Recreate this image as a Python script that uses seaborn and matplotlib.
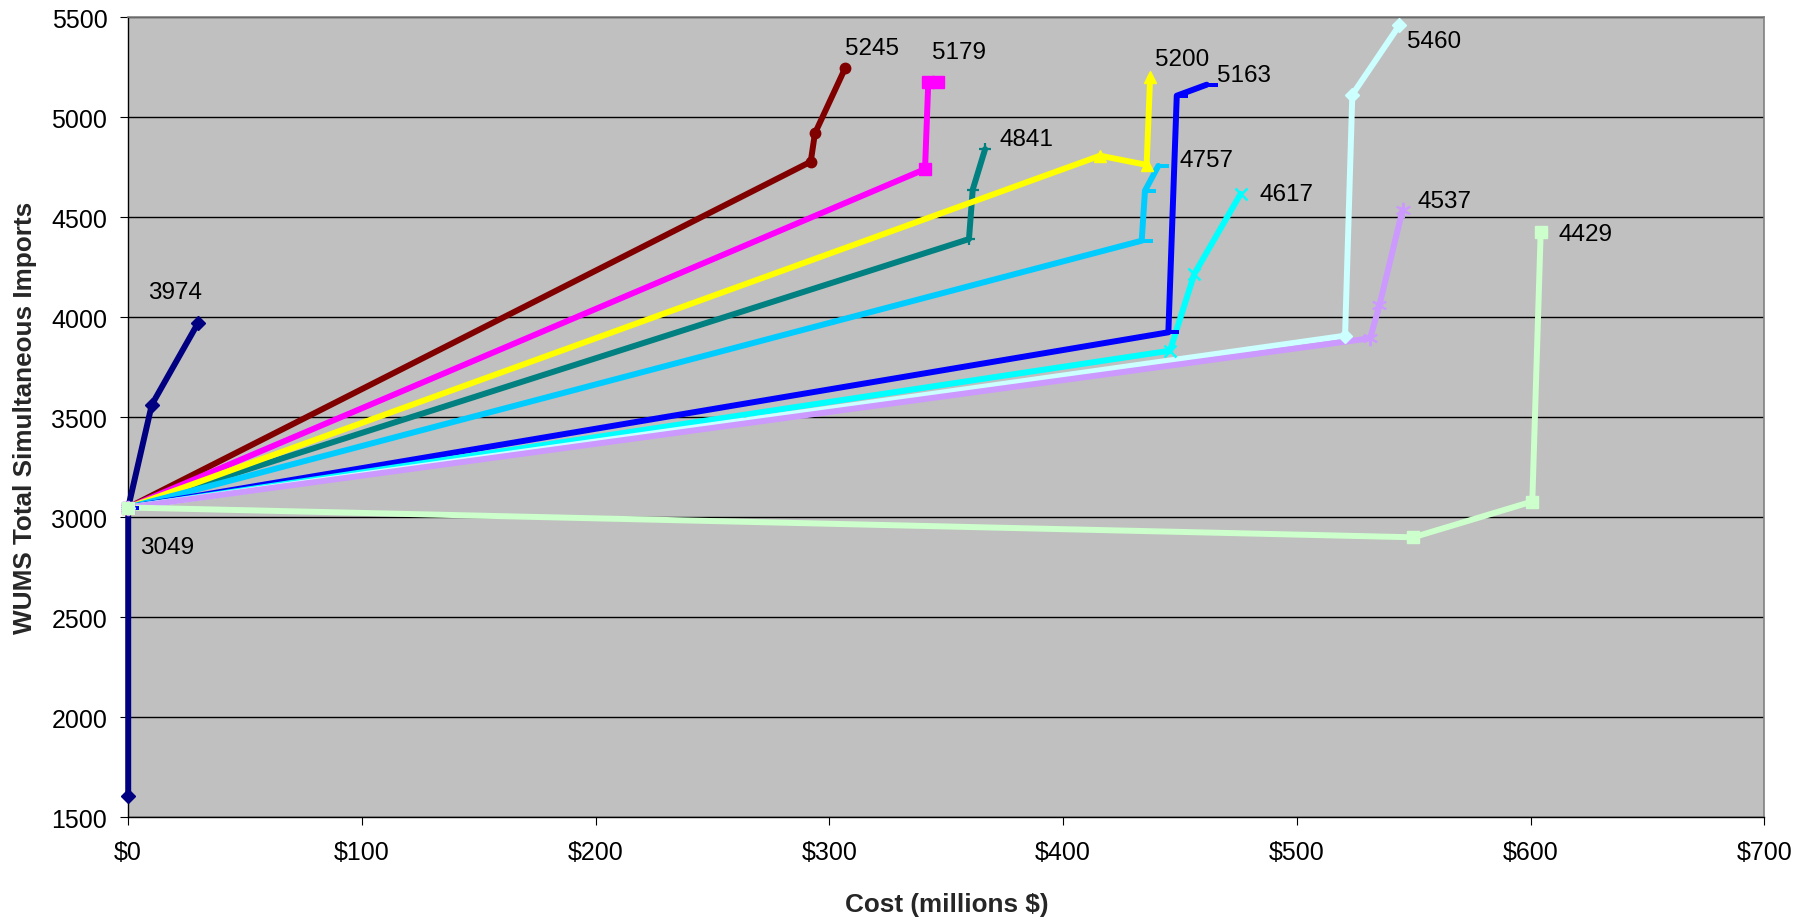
import matplotlib
matplotlib.use("Agg")
import matplotlib.pyplot as plt
import seaborn as sns
from matplotlib.path import Path

# ---------------- data (cost in millions $, WUMS total simultaneous imports) -------------
navy_cost = [0, 0, 10.1, 30]
navy_imp = [1605, 3049, 3563, 3974]

maroon_cost = [0, 292.0, 293.8, 306.7]
maroon_imp = [3049, 4778, 4920, 5245]

magenta_cost = [0, 340.9, 342.3, 346.6]
magenta_imp = [3049, 4741, 5179, 5179]

teal_cost = [0, 359.7, 361.3, 366.6]
teal_imp = [3049, 4391, 4638, 4841]

yellow_cost = [0, 415.8, 435.7, 437.2]
yellow_imp = [3049, 4808, 4762, 5200]

skyblue_cost = [0, 433.6, 435.0, 440.7]
skyblue_imp = [3049, 4383, 4633, 4757]

blue_cost = [0, 445.0, 448.6, 461.4]
blue_imp = [3049, 3925, 5108, 5163]

cyan_cost = [0, 445.7, 456.1, 475.9]
cyan_imp = [3049, 3833, 4217, 4617]

paleturq_cost = [0, 520.6, 523.7, 543.8]
paleturq_imp = [3049, 3908, 5113, 5460]

lavender_cost = [0, 531.3, 535.3, 545.2]
lavender_imp = [3049, 3895, 4060, 4537]

palegreen_cost = [0, 549.8, 600.7, 604.3]
palegreen_imp = [3049, 2900, 3079, 4429]

x_ticks = [0, 100, 200, 300, 400, 500, 600, 700]
x_tick_labels = ["$0", "$100", "$200", "$300", "$400", "$500", "$600", "$700"]
y_ticks = [1500, 2000, 2500, 3000, 3500, 4000, 4500, 5000, 5500]

x_label = "Cost (millions $)"
y_label = "WUMS Total Simultaneous Imports"

# ---------------- styles ----------------
dash = Path([(-0.2, -0.18), (1, -0.18), (1, 0.18), (-0.2, 0.18), (-0.2, -0.18)],
            [Path.MOVETO, Path.LINETO, Path.LINETO, Path.LINETO, Path.CLOSEPOLY])

series = [
    # x, y, color, marker, markersize, mew, label index, label offset (px)
    (navy_cost, navy_imp, "#000080", "D", 7, 1, 3, (-23, 33)),
    (maroon_cost, maroon_imp, "#800000", "o", 7.5, 1, 3, (27, 23)),
    (magenta_cost, magenta_imp, "#FF00FF", "s", 9, 1, 3, (21, 32)),
    (teal_cost, teal_imp, "#008080", "+", 9, 1.6, 3, (41, 13)),
    (yellow_cost, yellow_imp, "#FFFF00", "^", 9, 1, 3, (32, 21)),
    (skyblue_cost, skyblue_imp, "#00CCFF", dash, 16, 0, 3, (48, 8)),
    (blue_cost, blue_imp, "#0000FF", dash, 16, 0, 3, (37, 12)),
    (cyan_cost, cyan_imp, "#00FFFF", "x", 9, 1.8, 3, (46, 2)),
    (paleturq_cost, paleturq_imp, "#CCFFFF", "D", 7, 1, 3, (35, -13)),
    (lavender_cost, lavender_imp, "#CC99FF", (6, 2, 0), 11, 1.5, 3, (42, 11)),
    (palegreen_cost, palegreen_imp, "#CCFFCC", "s", 9, 1, 3, (45, 0)),
]

sns.set_style("white")
plt.rcParams["font.family"] = ["Liberation Sans", "DejaVu Sans"]

fig = plt.figure(figsize=(18.1, 9.2), dpi=100)
ax = fig.add_axes([128.2 / 1810, 1 - 818.3 / 920, (1764.4 - 128.2) / 1810, 800 / 920])
ax.set_facecolor("#C0C0C0")

# lines first
for xs, ys, col, mk, ms, mew, li, off in series:
    sns.lineplot(x=xs, y=ys, sort=False, estimator=None, color=col,
                 linewidth=4.3, ax=ax, zorder=3, clip_on=False)

# then markers
for xs, ys, col, mk, ms, mew, li, off in series:
    sns.lineplot(x=xs, y=ys, sort=False, estimator=None, color=col,
                 linestyle="", marker=mk, markersize=ms, markeredgewidth=mew,
                 markeredgecolor=col, markerfacecolor=col, ax=ax, zorder=4,
                 clip_on=False)

# data labels at final points
for xs, ys, col, mk, ms, mew, li, off in series:
    ax.annotate(f"{ys[li]:.0f}", xy=(xs[li], ys[li]), xytext=off,
                textcoords="offset pixels", ha="center", va="center_baseline",
                fontsize=17.5, color="black", zorder=5)

# extra label for the common start point
ax.annotate(f"{navy_imp[1]:.0f}", xy=(navy_cost[1], navy_imp[1]), xytext=(39, -37),
            textcoords="offset pixels", ha="center", va="center_baseline",
            fontsize=17.5, color="black", zorder=5)

ax.set_xlim(0, 700)
ax.set_ylim(1500, 5500)
ax.set_xticks(x_ticks)
ax.set_xticklabels(x_tick_labels)
ax.set_yticks(y_ticks)
ax.yaxis.grid(True, color="black", linewidth=1.0)
ax.xaxis.grid(False)
ax.set_axisbelow(True)

ax.tick_params(axis="both", which="major", labelsize=18, direction="out",
               length=6, width=0.8, color="black", labelcolor="black")
ax.tick_params(axis="x", bottom=True, pad=10)
ax.tick_params(axis="y", left=True, pad=9)

for side in ("left", "bottom"):
    ax.spines[side].set_color("black")
    ax.spines[side].set_linewidth(1.0)
for side in ("top", "right"):
    ax.spines[side].set_color("#808080")
    ax.spines[side].set_linewidth(1.2)

ax.set_xlabel(x_label, fontsize=18.8, fontweight="bold")
ax.set_ylabel(y_label, fontsize=18.8, fontweight="bold")
ax.xaxis.label.set_va("center")
ax.yaxis.label.set_va("center")
ax.xaxis.set_label_coords(0.5, -0.108)
ax.yaxis.set_label_coords(-0.0631, 0.5)

fig.savefig("out.png", dpi=100, facecolor="white")
